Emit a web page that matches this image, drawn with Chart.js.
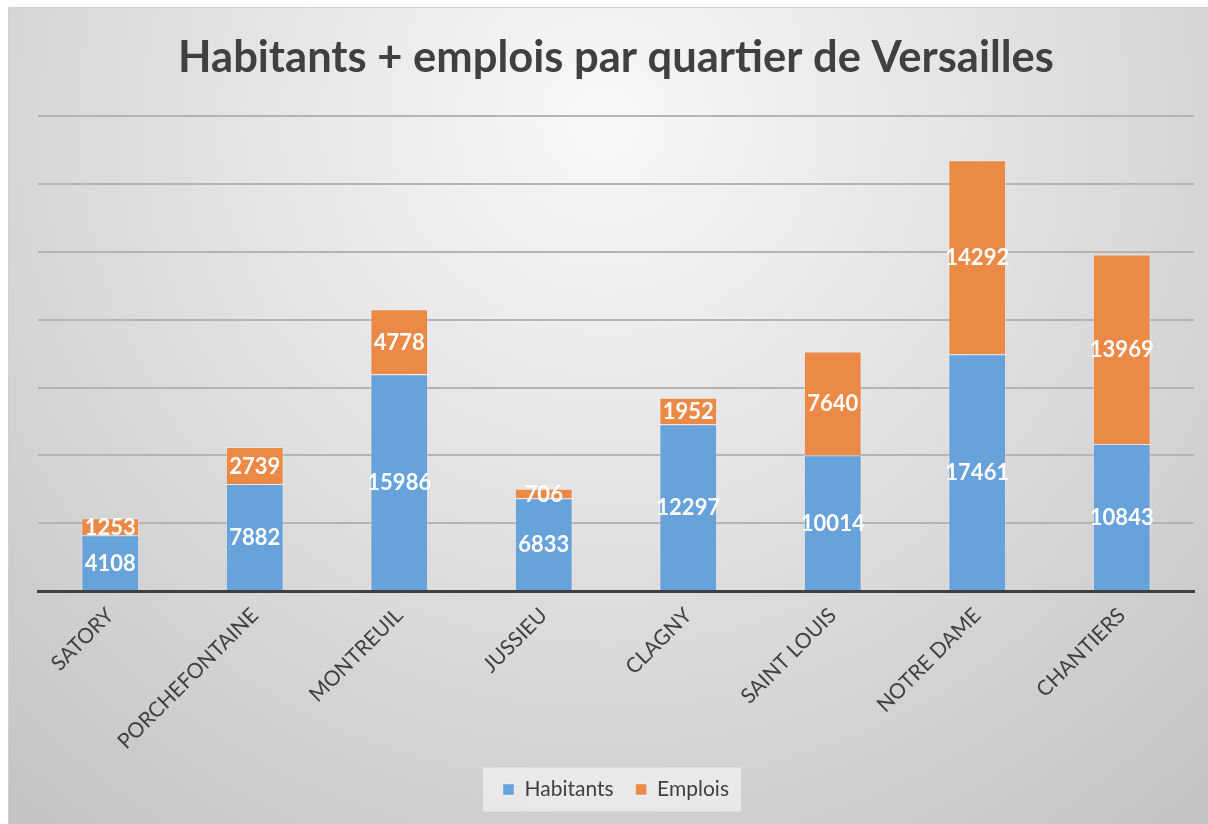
<!DOCTYPE html>
<html>
<head>
<meta charset="utf-8">
<script src="https://cdn.jsdelivr.net/npm/chart.js@4"></script>
<style>
html,body{margin:0;padding:0;background:#fff;}
#wrap{width:1208px;height:824px;position:relative;}
</style>
</head>
<body>
<div id="wrap"><canvas id="c" width="1208" height="824"></canvas></div>
<script>
const categories = ['SATORY','PORCHEFONTAINE','MONTREUIL','JUSSIEU','CLAGNY','SAINT LOUIS','NOTRE DAME','CHANTIERS'];
const habitants = [4108, 7882, 15986, 6833, 12297, 10014, 17461, 10843];
const emplois = [1253, 2739, 4778, 706, 1952, 7640, 14292, 13969];
const seriesNames = ['Habitants', 'Emplois'];
const chartTitle = 'Habitants + emplois par quartier de Versailles';

const FONT = 'Lato, "Open Sans", sans-serif';
const TEXT = '#404040';

const bgPlugin = {
  id: 'bg',
  beforeDraw(chart) {
    const ctx = chart.ctx;
    ctx.save();
    ctx.fillStyle = '#ffffff';
    ctx.fillRect(0, 0, chart.width, chart.height);
    const g = ctx.createRadialGradient(604, 120, 20, 604, 120, 900);
    g.addColorStop(0, '#f7f7f7');
    g.addColorStop(0.35, '#e6e6e6');
    g.addColorStop(1, '#c4c4c4');
    ctx.fillStyle = g;
    ctx.fillRect(8, 8, chart.width - 8, chart.height - 8);
    ctx.strokeStyle = '#d0d0d0';
    ctx.lineWidth = 1;
    ctx.beginPath();
    ctx.moveTo(8.5, chart.height);
    ctx.lineTo(8.5, 7.5);
    ctx.lineTo(chart.width, 7.5);
    ctx.stroke();
    // legend backdrop
    const lg = chart.legend;
    if (lg && lg.legendHitBoxes && lg.legendHitBoxes.length) {
      const hb = lg.legendHitBoxes;
      const x0 = hb[0].left - 20;
      const x1 = hb[hb.length - 1].left + hb[hb.length - 1].width + 12;
      const cy = hb[0].top + hb[0].height / 2;
      ctx.fillStyle = 'rgba(240,240,240,0.75)';
      ctx.fillRect(x0, cy - 22, x1 - x0, 44);
    }
    ctx.restore();
  }
};

const labelPlugin = {
  id: 'segLabels',
  afterDatasetsDraw(chart) {
    const ctx = chart.ctx;
    ctx.save();
    ctx.font = 'bold 22px ' + FONT;
    ctx.fillStyle = '#ffffff';
    ctx.textAlign = 'center';
    ctx.textBaseline = 'middle';
    chart.data.datasets.forEach((ds, i) => {
      const meta = chart.getDatasetMeta(i);
      meta.data.forEach((el, j) => {
        const p = el.getProps(['x', 'y', 'base'], true);
        ctx.fillText(String(ds.data[j]), p.x, (p.y + p.base) / 2 + 1);
      });
    });
    ctx.restore();
  }
};

new Chart(document.getElementById('c'), {
  type: 'bar',
  data: {
    labels: categories,
    datasets: [
      { label: seriesNames[0], data: habitants, backgroundColor: '#67a2da', borderColor: 'rgba(255,255,255,0.35)', borderWidth: 1 },
      { label: seriesNames[1], data: emplois, backgroundColor: '#eb8a47', borderColor: 'rgba(255,255,255,0.35)', borderWidth: 1 }
    ]
  },
  options: {
    responsive: false,
    animation: false,
    devicePixelRatio: 1,
    layout: { padding: { left: 38, right: 14, top: 0, bottom: 14 } },
    datasets: { bar: { categoryPercentage: 1, barPercentage: 0.4 } },
    plugins: {
      title: {
        display: true,
        text: chartTitle,
        color: TEXT,
        font: { family: FONT, size: 43.5, weight: 'bold' },
        padding: { top: 32, bottom: 32 }
      },
      legend: {
        position: 'bottom',
        labels: {
          color: TEXT,
          font: { family: FONT, size: 21 },
          boxWidth: 11,
          boxHeight: 11,
          padding: 22
        }
      },
      tooltip: { enabled: false }
    },
    scales: {
      x: {
        stacked: true,
        grid: { display: false },
        border: { display: true, color: '#404040', width: 3 },
        ticks: { color: TEXT, font: { family: FONT, size: 21 }, minRotation: 45, maxRotation: 45, padding: 4 },
        afterFit(s) { s.height = 166; s.paddingLeft = 0; s.paddingRight = 0; }
      },
      y: {
        stacked: true,
        min: 0,
        max: 35000,
        ticks: { display: false, stepSize: 5000 },
        border: { display: false },
        grid: {
          drawTicks: false,
          lineWidth: 2,
          color: (c) => (c.tick && c.tick.value === 0 ? 'rgba(0,0,0,0)' : '#b4b4b4')
        },
        afterFit(s) { s.width = 0; }
      }
    }
  },
  plugins: [bgPlugin, labelPlugin]
});
</script>
</body>
</html>
